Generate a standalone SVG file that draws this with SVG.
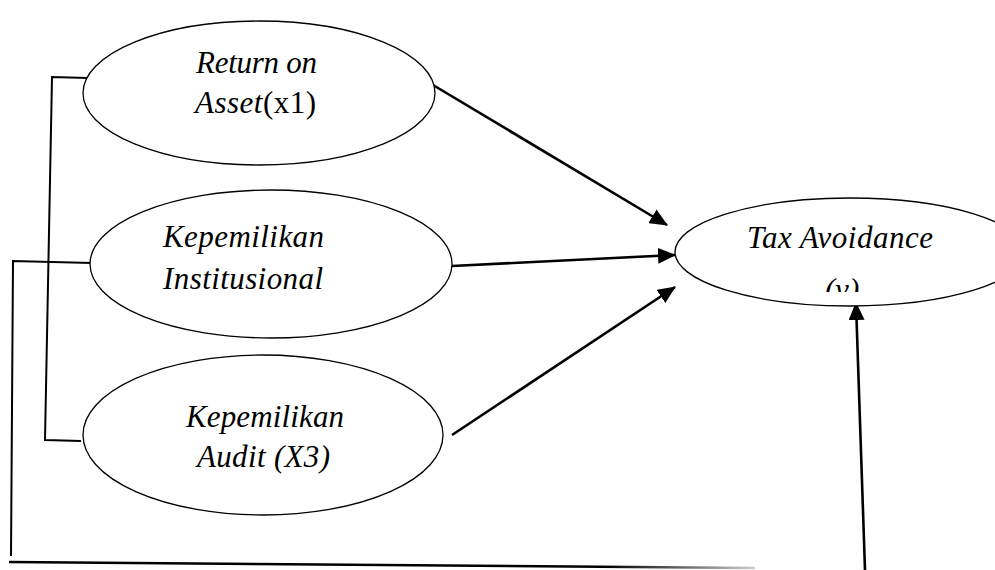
<svg xmlns="http://www.w3.org/2000/svg" width="995" height="570" viewBox="0 0 995 570">
<style>
.node ellipse{fill:#fff;stroke:#000;stroke-width:1.3}
.lbl{font-family:"Liberation Serif","Times New Roman",serif;font-size:31px;font-style:italic;fill:#000}
.up{font-style:normal}
.arr{stroke:#000;stroke-width:2.6;fill:none;marker-end:url(#ah)}
.br{stroke:#000;stroke-width:2;fill:none}
</style>
<defs>
<marker id="ah" markerUnits="userSpaceOnUse" markerWidth="18" markerHeight="16" viewBox="0 0 18 16" refX="17" refY="8" orient="auto">
<path d="M0,0 L18,8 L0,16 Z" fill="#000"/>
</marker>
<linearGradient id="fade" gradientUnits="userSpaceOnUse" x1="9" y1="0" x2="755" y2="0">
<stop offset="0" stop-color="#000"/>
<stop offset="0.8" stop-color="#000"/>
<stop offset="1" stop-color="#ccc"/>
</linearGradient>
<clipPath id="yclip"><rect x="700" y="200" width="295" height="92"/></clipPath>
</defs>
<rect width="995" height="570" fill="#fff"/>
<g id="connectors">
<polyline class="br" points="88,78 52,77 45,440 81,441"/>
<polyline class="br" points="92,263 13,261 11,556"/>
<line x1="9" y1="562" x2="755" y2="568" stroke="url(#fade)" stroke-width="2.6"/>
<line class="arr" x1="433" y1="85" x2="667" y2="225"/>
<line class="arr" x1="452" y1="266" x2="675" y2="255"/>
<line class="arr" x1="452" y1="435" x2="675" y2="287"/>
<line class="arr" x1="865" y1="570" x2="856" y2="303"/>
</g>
<g id="roa" class="node">
<ellipse cx="259" cy="93" rx="176" ry="72"/>
<text class="lbl" x="196" y="73" textLength="121" lengthAdjust="spacing">Return on</text>
<text class="lbl" x="195" y="113" textLength="121" lengthAdjust="spacing">Asset<tspan class="up">(x1)</tspan></text>
</g>
<g id="ki" class="node">
<ellipse cx="271" cy="264" rx="181" ry="74"/>
<text class="lbl" x="163" y="247" textLength="161" lengthAdjust="spacing">Kepemilikan</text>
<text class="lbl" x="163" y="289" textLength="160" lengthAdjust="spacing">Institusional</text>
</g>
<g id="ka" class="node">
<ellipse cx="263" cy="435" rx="180" ry="80"/>
<text class="lbl" x="186" y="427" textLength="158" lengthAdjust="spacing">Kepemilikan</text>
<text class="lbl" x="197" y="467" textLength="133" lengthAdjust="spacing">Audit (X3)</text>
</g>
<g id="ta" class="node">
<ellipse cx="850" cy="252" rx="175" ry="54"/>
<text class="lbl" x="747" y="248" textLength="186" lengthAdjust="spacing">Tax Avoidance</text>
<text class="lbl" x="842" y="300" text-anchor="middle" clip-path="url(#yclip)">(y)</text>
</g>
</svg>
